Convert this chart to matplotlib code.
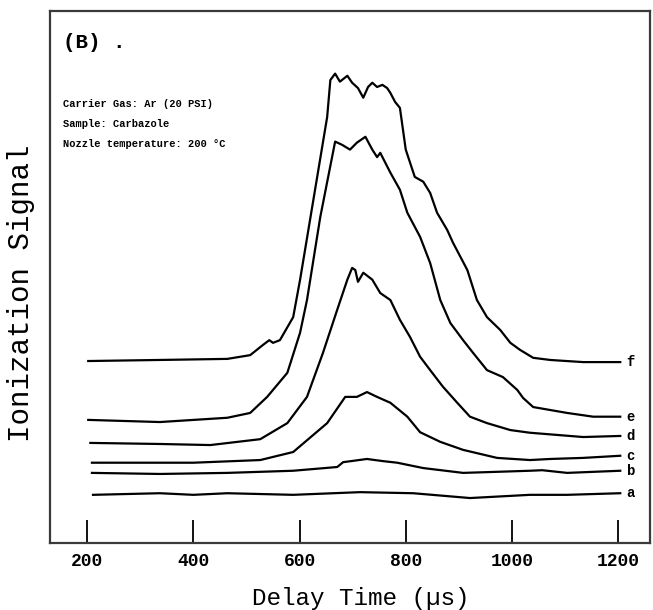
import numpy as np
import matplotlib
matplotlib.use("Agg")
import matplotlib.pyplot as plt

plt.rcParams['font.family'] = ['Liberation Mono', 'DejaVu Sans Mono']

# delay time (us) and ionization signal (arb. units)
t_a = [211, 337, 400, 464, 588, 714, 814, 921, 1034, 1104, 1204]
s_a = [9.0, 9.3, 9.0, 9.3, 9.0, 9.5, 9.3, 8.4, 9.0, 9.0, 9.3]

t_b = [209, 337, 464, 588, 671, 682, 727, 757, 784, 833, 908, 972, 1034, 1057, 1104, 1204]
s_b = [13.1, 12.9, 13.1, 13.5, 14.2, 15.1, 15.7, 15.3, 15.0, 14.0, 13.1, 13.3, 13.5, 13.6, 13.1, 13.5]

t_c = [209, 400, 526, 588, 652, 686, 708, 727, 746, 771, 803, 827, 865, 908, 972, 1034, 1072, 1134, 1204]
s_c = [15.0, 15.0, 15.5, 17.0, 22.4, 27.3, 27.3, 28.2, 27.3, 26.2, 23.6, 20.7, 18.9, 17.4, 15.9, 15.5, 15.7, 15.9, 16.3]

t_d = [206, 337, 432, 526, 577, 614, 644, 671, 690, 699, 705, 710, 720, 737, 752, 771, 789,
       808, 827, 846, 870, 897, 921, 953, 997, 1034, 1134, 1204]
s_d = [18.7, 18.5, 18.3, 19.4, 22.4, 27.3, 35.5, 43.6, 49.2, 51.4, 51.0, 48.8, 50.5, 49.2, 46.7, 45.4, 41.7,
       38.5, 34.8, 32.3, 29.2, 26.2, 23.6, 22.4, 21.1, 20.6, 19.8, 20.0]

t_e = [202, 337, 464, 507, 539, 577, 601, 614, 639, 667, 680, 695, 708, 724, 737, 746, 752, 771, 789,
       803, 827, 846, 865, 884, 908, 927, 953, 983, 1010, 1021, 1040, 1104, 1153, 1204]
s_e = [23.0, 22.6, 23.4, 24.3, 27.3, 31.8, 39.3, 45.4, 60.9, 75.0, 74.4, 73.5, 74.8, 75.9, 73.5, 72.1, 72.9, 69.2, 66.0,
       61.7, 57.2, 52.3, 45.4, 41.1, 37.9, 35.5, 32.3, 31.0, 28.6, 27.1, 25.4, 24.3, 23.6, 23.6]

t_f = [202, 337, 464, 507, 531, 543, 550, 563, 588, 601, 626, 652, 658, 667, 676, 690, 699, 710, 720,
       729, 737, 746, 756, 765, 771, 780, 789, 800, 817, 833, 846, 859, 878, 889, 916, 934, 953, 978,
       997, 1015, 1040, 1072, 1134, 1204]
s_f = [34.0, 34.2, 34.4, 35.1, 37.0, 37.9, 37.4, 37.9, 42.2, 49.2, 64.1, 79.6, 86.5, 87.7, 86.2, 87.3, 86.0, 85.0, 83.2,
       85.2, 86.0, 85.2, 85.6, 85.0, 84.1, 82.4, 81.3, 73.5, 68.4, 67.5, 65.4, 61.7, 58.5, 56.1, 51.0, 45.4, 42.2, 39.8,
       37.4, 36.1, 34.6, 34.2, 33.8, 33.8]

curves = [("a", t_a, s_a), ("b", t_b, s_b), ("c", t_c, s_c),
          ("d", t_d, s_d), ("e", t_e, s_e), ("f", t_f, s_f)]
xticks = [200, 400, 600, 800, 1000, 1200]

fig = plt.figure(figsize=(6.53, 6.10), dpi=100)
ax = fig.add_axes([50/653, 1-543/610, 600/653, 532/610])

for name, t, s in curves:
    ax.plot(t, s, '-', color='black', lw=1.6)
    ax.text(1216, s[-1], name, fontsize=10, fontweight='bold', ha='left', va='center')

ax.set_xlim(130, 1260)
ax.set_ylim(0, 99.4)
ax.set_xticks(xticks)
ax.set_xticklabels([str(v) for v in xticks], fontsize=13, fontweight='bold')
ax.set_yticks([])
ax.tick_params(axis='x', direction='in', length=16.5, width=1.3, pad=7)

for sp in ax.spines.values():
    sp.set_linewidth(1.6)
    sp.set_color('#3a3a3a')

ax.set_xlabel("Delay Time (µs)", fontsize=17.5)
ax.set_ylabel("Ionization Signal", fontsize=21)
ax.xaxis.set_label_coords(0.518, -0.083)
ax.yaxis.set_label_coords(-0.025, 0.47)

ax.text(0.022, 0.94, "(B) .", transform=ax.transAxes, fontsize=15, fontweight='bold', va='center')
ax.text(0.022, 0.834, "Carrier Gas: Ar (20 PSI)\nSample: Carbazole\nNozzle temperature: 200 °C",
        transform=ax.transAxes, fontsize=7.5, fontweight='bold', va='top', linespacing=2.25)

fig.savefig("out.png", dpi=100)
